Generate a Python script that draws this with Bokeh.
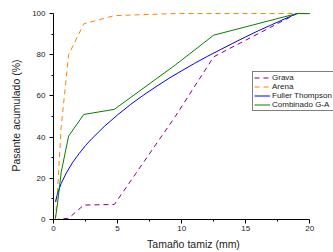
import numpy as np
from bokeh.plotting import figure
from bokeh.models import Range1d, FixedTicker, Legend, LegendItem
from bokeh.embed import file_html
from bokeh.resources import INLINE

# Sieve sizes (mm) and cumulative passing (%)
grava_x = [0.075, 0.15, 0.3, 0.6, 1.18, 2.36, 4.75, 9.5, 12.5, 19, 25]
grava_y = [0, 0, 0, 0.3, 0.6, 7, 7.3, 50, 79, 100, 100]

arena_x = [0.075, 0.15, 0.3, 0.6, 1.18, 2.36, 4.75, 9.5, 12.5, 19, 25]
arena_y = [0, 0.5, 12, 45, 80, 95, 99, 100, 100, 100, 100]

fuller_x = [0.15, 0.3, 0.6, 1.0, 1.5, 2.0, 2.5, 3.0, 4.0, 5.0, 6.0, 7.0, 8.0,
            9.0, 10.0, 11.0, 12.0, 13.0, 14.0, 15.0, 16.0, 17.0, 18.0, 19.0]
fuller_y = [8.6, 12.3, 17.5, 22.6, 27.8, 32.0, 35.9, 39.3, 45.4, 50.8, 55.8,
            60.3, 64.5, 68.5, 72.2, 75.8, 79.2, 82.4, 85.6, 88.7, 91.7, 94.5,
            97.3, 100]

comb_x = [0.15, 0.3, 0.6, 1.18, 2.36, 4.75, 9.5, 12.5, 19, 25]
comb_y = [0.5, 7, 23, 40.5, 51, 53.5, 75, 89.5, 100, 100]

x_major = [0, 5, 10, 15, 20]
x_minor = [2.5, 7.5, 12.5, 17.5]
y_major = [0, 20, 40, 60, 80, 100]
y_minor = [10, 30, 50, 70, 90]

FONT = "Liberation Sans"
X_AXIS_END = 20


def clip_series(xs, ys, xmax):
    """Keep the part of a series that lies on the axis (x <= xmax)."""
    xs = np.asarray(xs, float)
    ys = np.asarray(ys, float)
    keep = xs <= xmax
    cx, cy = list(xs[keep]), list(ys[keep])
    if xs.max() > xmax and (not cx or cx[-1] < xmax):
        cx.append(xmax)
        cy.append(float(np.interp(xmax, xs, ys)))
    return cx, cy


# frame extends past the axis end (room for the legend), axis bounded to 0-20
p = figure(width=333, height=252, output_backend="svg", toolbar_location=None,
           x_range=Range1d(0, 21.85), y_range=Range1d(0, 101),
           min_border_left=53, min_border_right=0, min_border_top=11,
           min_border_bottom=33)
p.outline_line_color = None
p.grid.visible = False
p.background_fill_color = "white"
p.border_fill_color = "white"

gx, gy = clip_series(grava_x, grava_y, X_AXIS_END)
ax_, ay_ = clip_series(arena_x, arena_y, X_AXIS_END)
fx, fy = clip_series(fuller_x, fuller_y, X_AXIS_END)
cx, cy = clip_series(comb_x, comb_y, X_AXIS_END)

r1 = p.line(gx, gy, line_color="#800080", line_width=1, line_dash="5 4")
r2 = p.line(ax_, ay_, line_color="#FF8000", line_width=1, line_dash="5 4")
r3 = p.line(fx, fy, line_color="#0000FF", line_width=1)
r4 = p.line(cx, cy, line_color="#008000", line_width=1)

for ax in (p.xaxis[0], p.yaxis[0]):
    ax.axis_line_color = "black"
    ax.axis_line_width = 1
    ax.major_tick_line_color = "black"
    ax.minor_tick_line_color = "black"
    ax.major_tick_in = 0
    ax.major_tick_out = 4
    ax.minor_tick_in = 0
    ax.minor_tick_out = 2
    ax.major_label_text_font = FONT
    ax.major_label_text_font_size = "8px"
    ax.major_label_text_color = "#222222"
    ax.axis_label_text_font = FONT
    ax.axis_label_text_font_size = "10.5px"
    ax.axis_label_text_font_style = "normal"
    ax.axis_label_text_color = "#222222"

p.xaxis[0].ticker = FixedTicker(ticks=x_major, minor_ticks=x_minor)
p.yaxis[0].ticker = FixedTicker(ticks=y_major, minor_ticks=y_minor)
p.xaxis[0].bounds = (0, X_AXIS_END)
p.yaxis[0].bounds = (0, 100)
p.xaxis[0].axis_label = "Tamaño tamiz (mm)"
p.yaxis[0].axis_label = "Pasante acumulado (%)"
p.xaxis[0].major_label_standoff = 2
p.xaxis[0].axis_label_standoff = 4
p.yaxis[0].major_label_standoff = 4
p.yaxis[0].axis_label_standoff = 7

legend = Legend(items=[
    LegendItem(label="Grava", renderers=[r1]),
    LegendItem(label="Arena", renderers=[r2]),
    LegendItem(label="Fuller Thompson", renderers=[r3]),
    LegendItem(label="Combinado G-A", renderers=[r4]),
], location=(199, 108))
legend.border_line_color = "black"
legend.border_line_width = 1
legend.background_fill_color = "white"
legend.background_fill_alpha = 1
legend.label_text_font = FONT
legend.label_text_font_size = "8px"
legend.label_text_color = "#222222"
legend.label_height = 9
legend.glyph_height = 9
legend.glyph_width = 16
legend.label_standoff = 2
legend.padding = 1
legend.spacing = 0
legend.margin = 0
p.add_layout(legend)

open("out.html", "w").write(file_html(p, INLINE))
